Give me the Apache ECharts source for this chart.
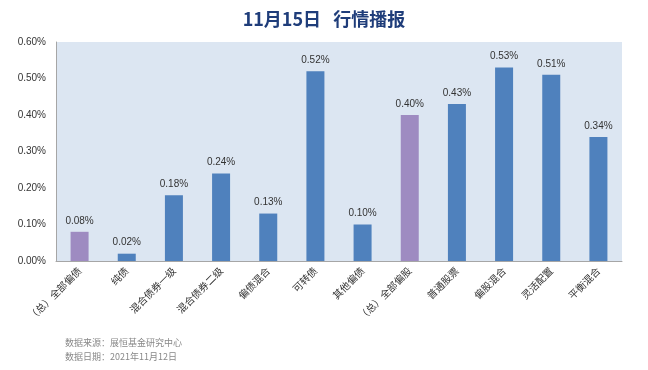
<!DOCTYPE html>
<html><head><meta charset="utf-8">
<script src="https://cdn.jsdelivr.net/npm/echarts@6/dist/echarts.min.js"></script>
<style>html,body{margin:0;padding:0;background:#fff}#c{width:648px;height:370px}</style>
</head><body><div id="c"></div>
<script>
const categories = ['（总）全部偏债','纯债','混合债券一级','混合债券二级','偏债混合','可转债','其他偏债','（总）全部偏股','普通股票','偏股混合','灵活配置','平衡混合'];
const values = [0.08,0.02,0.18,0.24,0.13,0.52,0.10,0.40,0.43,0.53,0.51,0.34];
const highlighted = ['（总）全部偏债','（总）全部偏股'];
const yTicks = [0,0.1,0.2,0.3,0.4,0.5,0.6];

const chart = echarts.init(document.getElementById('c'));
chart.setOption({
  animation:false,
  title:[{text:'11月15日   行情播报',left:'center',top:5,textStyle:{fontFamily:'"Noto Sans CJK SC",sans-serif',fontSize:18,fontWeight:'bold',color:'#1f3d7a'}},
    {text:'数据来源：展恒基金研究中心\n数据日期：2021年11月12日',left:60,top:331,textStyle:{fontFamily:'"Noto Sans CJK SC",sans-serif',fontSize:9,fontWeight:'normal',color:'#888',lineHeight:14}}],
  grid:{left:56,right:26,top:42,bottom:109,backgroundColor:'#dce6f2',show:true,borderWidth:0},
  xAxis:{type:'category',data:categories,
    axisLine:{lineStyle:{color:'#a6a6a6'}},axisTick:{show:false},
    axisLabel:{rotate:45,interval:0,fontSize:10,color:'#333',fontFamily:'"Noto Sans CJK SC",sans-serif',margin:8}},
  yAxis:{type:'value',min:yTicks[0],max:yTicks[yTicks.length-1],interval:0.1,
    axisLine:{show:true,lineStyle:{color:'#a6a6a6'}},axisTick:{show:false},splitLine:{show:false},
    axisLabel:{formatter:v=>v.toFixed(2)+'%',fontSize:10,color:'#333',fontFamily:'Liberation Sans, sans-serif',margin:10}},
  series:[{type:'bar',barWidth:18,
    data:values.map((v,i)=>({value:v,itemStyle:{color:highlighted.includes(categories[i])?'#9e8bc1':'#4f81bd'}})),
    label:{show:true,position:'top',formatter:p=>p.value.toFixed(2)+'%',fontSize:10,color:'#333',fontFamily:'Liberation Sans, sans-serif',distance:6}}]
});
</script></body></html>
